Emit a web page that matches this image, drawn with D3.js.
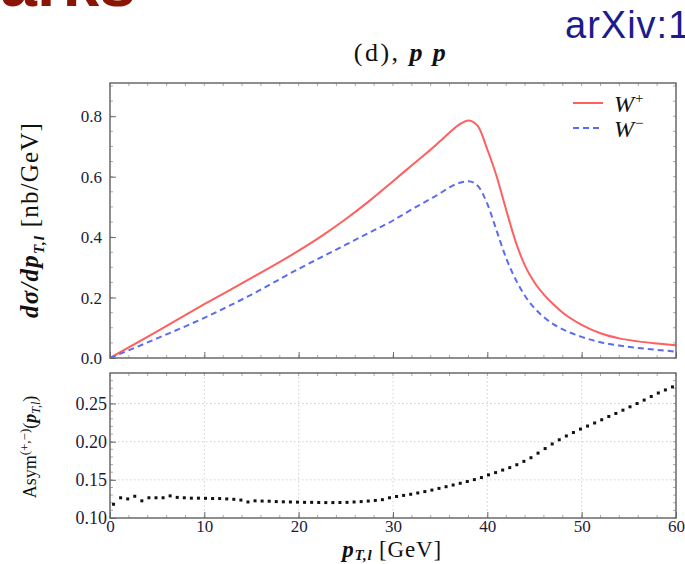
<!DOCTYPE html>
<html>
<head>
<meta charset="utf-8">
<script src="https://cdn.jsdelivr.net/npm/d3@7"></script>
<style>
  html, body { margin: 0; padding: 0; background: #fff; overflow: hidden; }
  svg { display: block; }
  .tick text { font-family: "Liberation Serif", "DejaVu Serif", serif; fill: #1c1c3a; }
</style>
</head>
<body>
<svg id="chart" width="685" height="564"></svg>
<script>
// Lepton transverse momentum grid for the differential cross sections [GeV]
const ptGrid = [0, 5, 10, 15, 20, 22.5, 25, 27.5, 30, 32, 34, 35, 36, 37, 38, 39, 40, 41, 42, 43, 44, 45, 46, 47, 48, 50, 52, 54, 56, 58, 60];
// dσ/dp_T,l for W+ and W- [nb/GeV]
const wPlus  = [0, 0.088, 0.178, 0.265, 0.355, 0.405, 0.46, 0.52, 0.585, 0.638, 0.69, 0.718, 0.746, 0.772, 0.786, 0.767, 0.69, 0.6, 0.49, 0.385, 0.305, 0.25, 0.21, 0.178, 0.15, 0.11, 0.082, 0.065, 0.055, 0.048, 0.042];
const wMinus = [0, 0.065, 0.133, 0.21, 0.295, 0.335, 0.375, 0.415, 0.455, 0.492, 0.527, 0.545, 0.565, 0.579, 0.585, 0.569, 0.51, 0.42, 0.33, 0.26, 0.205, 0.165, 0.135, 0.112, 0.095, 0.07, 0.052, 0.041, 0.033, 0.027, 0.021];

// Bin centres for the charge asymmetry [GeV]
const asymPt = [0.375, 1.125, 1.875, 2.625, 3.375, 4.125, 4.875, 5.625, 6.375, 7.125,
  7.875, 8.625, 9.375, 10.125, 10.875, 11.625, 12.375, 13.125, 13.875, 14.625,
  15.375, 16.125, 16.875, 17.625, 18.375, 19.125, 19.875, 20.625, 21.375, 22.125,
  22.875, 23.625, 24.375, 25.125, 25.875, 26.625, 27.375, 28.125, 28.875, 29.625,
  30.375, 31.125, 31.875, 32.625, 33.375, 34.125, 34.875, 35.625, 36.375, 37.125,
  37.875, 38.625, 39.375, 40.125, 40.875, 41.625, 42.375, 43.125, 43.875, 44.625,
  45.375, 46.125, 46.875, 47.625, 48.375, 49.125, 49.875, 50.625, 51.375, 52.125,
  52.875, 53.625, 54.375, 55.125, 55.875, 56.625, 57.375, 58.125, 58.875, 59.625];
// Asym(+,-)(p_T,l)
const asymVal = [0.118, 0.1265, 0.125, 0.1285, 0.1225, 0.1265, 0.1265, 0.1265, 0.129, 0.127,
  0.1265, 0.126, 0.126, 0.1258, 0.1255, 0.1255, 0.125, 0.1245, 0.1235, 0.121,
  0.1225, 0.1222, 0.122, 0.1215, 0.1212, 0.121, 0.1208, 0.1205, 0.1205, 0.1203,
  0.1202, 0.1202, 0.1203, 0.1205, 0.121, 0.1215, 0.1222, 0.123, 0.124, 0.1265,
  0.1282, 0.1296, 0.1311, 0.1328, 0.1346, 0.1366, 0.1388, 0.141, 0.1432, 0.1455,
  0.1478, 0.1503, 0.153, 0.1565, 0.1595, 0.1628, 0.166, 0.1698, 0.1742, 0.179,
  0.185, 0.191, 0.197, 0.2025, 0.2075, 0.212, 0.2165, 0.2205, 0.2245, 0.2287,
  0.233, 0.237, 0.2413, 0.2457, 0.25, 0.2545, 0.2592, 0.2638, 0.2678, 0.2718];

// Tick values
const xTicks = [0, 10, 20, 30, 40, 50, 60];
const yTopTicks = [0.0, 0.2, 0.4, 0.6, 0.8];
const yBotTicks = [0.10, 0.15, 0.20, 0.25];

const svg = d3.select("#chart");
const frameColor = "#6a6a6a";
const serif = '"Liberation Serif", "DejaVu Serif", serif';

// Slide fragments around the figure
svg.append("text").attr("x", 136).attr("y", 6).attr("text-anchor", "end")
  .style("font-family", '"Liberation Sans", Arial, sans-serif').style("font-weight", "bold")
  .style("font-size", "66px").style("fill", "#8a1505").text("arks");
svg.append("text").attr("x", 565).attr("y", 38)
  .style("font-family", '"Liberation Sans", Arial, sans-serif')
  .style("font-size", "38px").style("letter-spacing", "1px").style("fill", "#1c1c8c").text("arXiv:1");

// Scales
const x = d3.scaleLinear().domain([0, 60]).range([110, 676]);
const yTop = d3.scaleLinear().domain([0, 0.91]).range([358, 83]);
const yBot = d3.scaleLinear().domain([0.1, 0.29]).range([518, 373]);

// ---------- Top panel ----------
const topPanel = svg.append("g");
topPanel.append("defs").append("clipPath").attr("id", "clipTop")
  .append("rect").attr("x", 110).attr("y", 83).attr("width", 566).attr("height", 275);

// minor ticks
const minorX = d3.range(0, 61, 2);
const minorYTop = d3.range(0, 0.91, 0.05);
function minorTicks(g, xs, ys, yScale, x0, x1, y0, y1) {
  xs.forEach(v => {
    g.append("line").attr("x1", x(v)).attr("x2", x(v)).attr("y1", y1).attr("y2", y1 - 3).attr("stroke", "#aaa");
    g.append("line").attr("x1", x(v)).attr("x2", x(v)).attr("y1", y0).attr("y2", y0 + 3).attr("stroke", "#aaa");
  });
  ys.forEach(v => {
    g.append("line").attr("x1", x0).attr("x2", x0 + 3).attr("y1", yScale(v)).attr("y2", yScale(v)).attr("stroke", "#aaa");
    g.append("line").attr("x1", x1).attr("x2", x1 - 3).attr("y1", yScale(v)).attr("y2", yScale(v)).attr("stroke", "#aaa");
  });
}
minorTicks(topPanel, minorX, minorYTop, yTop, 110, 676, 83, 358);

topPanel.append("g").attr("transform", "translate(110,0)")
  .call(d3.axisLeft(yTop).tickValues(yTopTicks).tickFormat(d3.format(".1f")).tickSizeInner(-6).tickSizeOuter(0).tickPadding(8))
  .call(g => g.select(".domain").remove())
  .call(g => g.selectAll(".tick line").attr("stroke", frameColor))
  .call(g => g.selectAll("text").style("font-size", "17px"));
topPanel.append("g").attr("transform", "translate(0,358)")
  .call(d3.axisBottom(x).tickValues(xTicks).tickFormat("").tickSizeInner(-6).tickSizeOuter(0))
  .call(g => g.select(".domain").remove())
  .call(g => g.selectAll(".tick line").attr("stroke", frameColor));

const line = d3.line().x((d, i) => x(ptGrid[i])).curve(d3.curveMonotoneX);
topPanel.append("path").datum(wPlus)
  .attr("d", line.y(d => yTop(d)))
  .attr("fill", "none").attr("stroke", "#ff5f5f").attr("stroke-width", 2)
  .attr("clip-path", "url(#clipTop)");
topPanel.append("path").datum(wMinus)
  .attr("d", line.y(d => yTop(d)))
  .attr("fill", "none").attr("stroke", "#5b6cf0").attr("stroke-width", 2)
  .attr("stroke-dasharray", "6,4")
  .attr("clip-path", "url(#clipTop)");

topPanel.append("rect").attr("x", 110).attr("y", 83).attr("width", 566).attr("height", 275)
  .attr("fill", "none").attr("stroke", frameColor).attr("stroke-width", 1.5);

// legend
const legend = topPanel.append("g");
legend.append("line").attr("x1", 573).attr("x2", 603).attr("y1", 103).attr("y2", 103)
  .attr("stroke", "#ff5f5f").attr("stroke-width", 2);
legend.append("line").attr("x1", 573).attr("x2", 603).attr("y1", 128).attr("y2", 128)
  .attr("stroke", "#5b6cf0").attr("stroke-width", 2).attr("stroke-dasharray", "6,4");
const lp = legend.append("text").attr("x", 614).attr("y", 112)
  .style("font-family", serif).style("font-size", "24px").style("fill", "#111");
lp.append("tspan").style("font-style", "italic").text("W");
lp.append("tspan").attr("dy", -9).attr("dx", 1).style("font-size", "15px").text("+");
const lm = legend.append("text").attr("x", 614).attr("y", 137)
  .style("font-family", serif).style("font-size", "24px").style("fill", "#111");
lm.append("tspan").style("font-style", "italic").text("W");
lm.append("tspan").attr("dy", -9).attr("dx", 1).style("font-size", "15px").text("\u2212");

// title
const title = svg.append("text").attr("x", 401).attr("y", 61).attr("text-anchor", "middle")
  .style("font-family", serif).style("font-size", "26px").style("letter-spacing", "2.5px").style("fill", "#111");
title.append("tspan").text("(d), ");
title.append("tspan").style("font-style", "italic").style("font-weight", "bold").text("p\u2009p");

// top y label
const yl = svg.append("text").attr("transform", "translate(38,220) rotate(-90)")
  .attr("text-anchor", "middle")
  .style("font-family", serif).style("font-size", "25px").style("letter-spacing", "1.2px").style("fill", "#111");
yl.append("tspan").style("font-style", "italic").style("font-weight", "bold").text("d\u03c3/dp");
yl.append("tspan").attr("dy", 6).style("font-size", "15px").style("font-style", "italic").style("font-weight", "bold").text("T,l");
yl.append("tspan").attr("dy", -6).text(" [nb/GeV]");

// ---------- Bottom panel ----------
const botPanel = svg.append("g");
// dotted grid
botPanel.selectAll(".gx").data(xTicks.filter(v => v > 0 && v < 60)).enter().append("line")
  .attr("x1", d => x(d)).attr("x2", d => x(d)).attr("y1", 373).attr("y2", 518)
  .attr("stroke", "#d0d0d0").attr("stroke-dasharray", "1.5,2.5");
botPanel.selectAll(".gy").data(yBotTicks.filter(v => v > 0.1)).enter().append("line")
  .attr("x1", 110).attr("x2", 676).attr("y1", d => yBot(d)).attr("y2", d => yBot(d))
  .attr("stroke", "#d0d0d0").attr("stroke-dasharray", "1.5,2.5");

minorTicks(botPanel, minorX, d3.range(0.1, 0.29, 0.01), yBot, 110, 676, 373, 518);

botPanel.append("g").attr("transform", "translate(110,0)")
  .call(d3.axisLeft(yBot).tickValues(yBotTicks).tickFormat(d3.format(".2f")).tickSizeInner(-6).tickSizeOuter(0).tickPadding(3))
  .call(g => g.select(".domain").remove())
  .call(g => g.selectAll(".tick line").attr("stroke", frameColor))
  .call(g => g.selectAll("text").style("font-size", "18px"));
botPanel.append("g").attr("transform", "translate(0,518)")
  .call(d3.axisBottom(x).tickValues(xTicks).tickSizeInner(-6).tickSizeOuter(0).tickPadding(2))
  .call(g => g.select(".domain").remove())
  .call(g => g.selectAll(".tick line").attr("stroke", frameColor))
  .call(g => g.selectAll("text").style("font-size", "17px"));

botPanel.selectAll(".pt").data(asymVal).enter().append("rect")
  .attr("x", (d, i) => x(asymPt[i]) - 1.5).attr("y", d => yBot(d) - 1.5)
  .attr("width", 3).attr("height", 3).attr("fill", "#111");

botPanel.append("rect").attr("x", 110).attr("y", 373).attr("width", 566).attr("height", 145)
  .attr("fill", "none").attr("stroke", frameColor).attr("stroke-width", 1.5);

// bottom y label
const by = svg.append("text").attr("transform", "translate(36,447) rotate(-90)")
  .attr("text-anchor", "middle")
  .style("font-family", serif).style("font-size", "18px").style("fill", "#111");
by.append("tspan").text("Asym");
by.append("tspan").attr("dy", -7).style("font-size", "13px").text("(+,\u2212)");
by.append("tspan").attr("dy", 7).text("(");
by.append("tspan").style("font-style", "italic").style("font-weight", "bold").text("p");
by.append("tspan").attr("dy", 4).style("font-size", "12px").style("font-style", "italic").text("T,l");
by.append("tspan").attr("dy", -4).text(")");

// x label
const xl = svg.append("text").attr("x", 392).attr("y", 557).attr("text-anchor", "middle")
  .style("font-family", serif).style("font-size", "23px").style("letter-spacing", "0.8px").style("fill", "#111");
xl.append("tspan").style("font-style", "italic").style("font-weight", "bold").text("p");
xl.append("tspan").attr("dy", 3).style("font-size", "15px").style("font-style", "italic").style("font-weight", "bold").text("T,l");
xl.append("tspan").attr("dy", -3).text(" [GeV]");
</script>
</body>
</html>
